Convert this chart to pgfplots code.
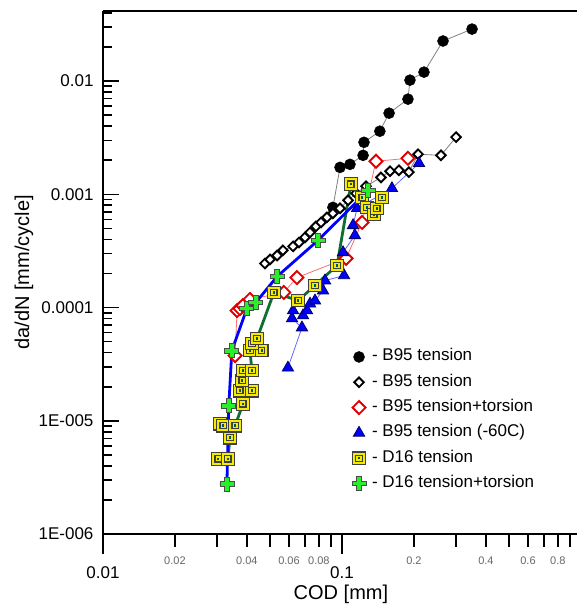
\documentclass[border=0pt]{standalone}
\usepackage{pgfplots}
\pgfplotsset{compat=1.18}
\usepackage{pgfplotstable}
\usepackage{fontspec}
\setmainfont{Liberation Sans}

\definecolor{dgreen}{RGB}{15,110,50}
\definecolor{ylw}{RGB}{245,235,0}
\definecolor{gpl}{RGB}{40,240,40}
\definecolor{pinkred}{RGB}{255,110,110}
\definecolor{redm}{RGB}{225,0,0}

\pgfdeclareplotmark{ysq}{%
  \pgfpathrectangle{\pgfqpoint{-\pgfplotmarksize}{-\pgfplotmarksize}}{\pgfqpoint{2\pgfplotmarksize}{2\pgfplotmarksize}}%
  \pgfusepathqfillstroke
  \pgfpathrectangle{\pgfqpoint{-0.5\pgfplotmarksize}{-0.5\pgfplotmarksize}}{\pgfqpoint{1\pgfplotmarksize}{1\pgfplotmarksize}}%
  \pgfusepathqstroke
  \begin{pgfscope}%
  \pgfpathrectangle{\pgfqpoint{-1.3pt}{-1.3pt}}{\pgfqpoint{2.6pt}{2.6pt}}%
  \pgfsetfillcolor{teal!70!black}\pgfusepathqfill
  \end{pgfscope}%
}
\pgfdeclareplotmark{gplus}{%
  \pgfpathmoveto{\pgfqpoint{0.32\pgfplotmarksize}{\pgfplotmarksize}}%
  \pgfpathlineto{\pgfqpoint{0.32\pgfplotmarksize}{0.32\pgfplotmarksize}}%
  \pgfpathlineto{\pgfqpoint{\pgfplotmarksize}{0.32\pgfplotmarksize}}%
  \pgfpathlineto{\pgfqpoint{\pgfplotmarksize}{-0.32\pgfplotmarksize}}%
  \pgfpathlineto{\pgfqpoint{0.32\pgfplotmarksize}{-0.32\pgfplotmarksize}}%
  \pgfpathlineto{\pgfqpoint{0.32\pgfplotmarksize}{-\pgfplotmarksize}}%
  \pgfpathlineto{\pgfqpoint{-0.32\pgfplotmarksize}{-\pgfplotmarksize}}%
  \pgfpathlineto{\pgfqpoint{-0.32\pgfplotmarksize}{-0.32\pgfplotmarksize}}%
  \pgfpathlineto{\pgfqpoint{-\pgfplotmarksize}{-0.32\pgfplotmarksize}}%
  \pgfpathlineto{\pgfqpoint{-\pgfplotmarksize}{0.32\pgfplotmarksize}}%
  \pgfpathlineto{\pgfqpoint{-0.32\pgfplotmarksize}{0.32\pgfplotmarksize}}%
  \pgfpathlineto{\pgfqpoint{-0.32\pgfplotmarksize}{\pgfplotmarksize}}%
  \pgfpathclose
  \pgfusepathqfillstroke
}

\pgfplotstableread{
x y
0.0916 0.000767
0.0981 0.00173
0.108 0.00184
0.1225 0.00221
0.1236 0.00288
0.144 0.00361
0.1574 0.00521
0.1888 0.00693
0.1925 0.0102
0.2203 0.0120
0.2646 0.0226
0.350 0.0288
}\bcircle

\pgfplotstableread{
x y
0.0476 0.000245
0.0500 0.000266
0.0535 0.000288
0.0566 0.000320
0.0624 0.000347
0.0661 0.000376
0.0700 0.000416
0.0735 0.000461
0.0778 0.000521
0.0817 0.000565
0.0865 0.000626
0.0916 0.000679
0.0981 0.000752
0.106 0.000885
0.1145 0.00102
0.126 0.00118
0.1455 0.00141
0.1588 0.00160
0.173 0.00163
0.1905 0.00157
0.208 0.00226
0.2594 0.00221
0.300 0.00320
}\bdiamond

\pgfplotstableread{
x y
0.0357 3.76e-5
0.0364 9.41e-5
0.0374 9.80e-5
0.0385 1.04e-4
0.0412 1.18e-4
0.0571 1.36e-4
0.0648 1.84e-4
0.104 2.72e-4
0.1213 5.65e-4
0.1387 0.00196
0.1888 0.00208
}\rdiamond

\pgfplotstableread{
x y
0.0594 2.94e-5
0.0680 6.65e-5
0.0618 8.0e-5
0.0624 9.41e-5
0.0687 8.5e-5
0.0714 9.41e-5
0.0735 1.08e-4
0.0771 1.15e-4
0.0833 1.41e-4
0.0849 1.73e-4
0.102 1.92e-4
0.101 3.07e-4
0.1132 4.34e-4
0.1112 5.32e-4
0.1156 7.52e-4
0.1618 0.00113
0.210 0.00188
}\btri

\pgfplotstableread{
x y
0.0303 4.61e-6
0.0333 4.61e-6
0.0340 7.08e-6
0.0309 9.41e-6
0.0318 9.03e-6
0.0357 9.03e-6
0.0385 1.41e-5
0.0374 1.84e-5
0.0420 1.84e-5
0.0382 2.26e-5
0.0385 2.77e-5
0.0420 2.77e-5
0.0412 4.16e-5
0.0462 4.16e-5
0.0420 4.80e-5
0.0441 5.32e-5
0.0519 1.36e-4
0.0655 1.15e-4
0.0771 1.57e-4
0.0953 2.35e-4
0.109 0.00123
0.1213 0.00094
0.1272 7.67e-4
0.136 6.65e-4
0.140 7.52e-4
0.147 0.00094
}\dsq

\pgfplotstableread{
x y
0.0330 2.77e-6
0.0336 1.36e-5
0.0346 4.16e-5
0.0400 9.80e-5
0.0436 1.11e-4
0.0535 1.88e-4
0.0794 3.92e-4
0.1285 0.00108
}\dplus

\begin{document}
\begin{tikzpicture}
\useasboundingbox (-103pt,-76pt) rectangle (474pt,534pt);
% x axis (ticks, labels, frame lines)
\begin{axis}[
  scale only axis, width=474pt, height=523pt,
  xmode=log, ymode=log, xmin=0.01, xmax=0.962, ymin=1e-6, ymax=0.0416,
  clip=false,
  hide y axis,
  axis x line*=bottom,
  x axis line style={line width=1.6pt, -},
  xtick={0.01,0.1}, xticklabels={0.01,0.1},
  minor xtick={0.03,0.05,0.07,0.09,0.3,0.5,0.7,0.9},
  xtick align=outside,
  major tick length=20pt, minor tick length=13pt,
  tick style={line width=1.6pt, black},
  xticklabel style={font=\fontsize{17}{20}\selectfont, anchor=center, yshift=-19pt},
  extra x ticks={0.02,0.04,0.06,0.08,0.2,0.4,0.6,0.8},
  extra x tick labels={0.02,0.04,0.06,0.08,0.2,0.4,0.6,0.8},
  extra x tick style={major tick length=13pt,
     xticklabel style={font=\fontsize{11}{13}\selectfont, text=black!60, anchor=center, yshift=5pt}},
  xlabel={COD [mm]},
  xlabel style={font=\fontsize{20}{24}\selectfont, at={(axis description cs:0.502,-0.116)}, anchor=center},
]
\draw[line width=1.6pt] (rel axis cs:0,1) -- (rel axis cs:1,1);
\end{axis}
% y axis and data
\begin{axis}[
  scale only axis, width=474pt, height=523pt,
  xmode=log, ymode=log, xmin=0.01, xmax=0.962, ymin=1e-6, ymax=0.0416,
  clip=false,
  hide x axis,
  axis y line*=left,
  y axis line style={line width=1.6pt, -},
  ytick={1e-6,1e-5,1e-4,1e-3,1e-2},
  yticklabels={1E-006,1E-005,0.0001,0.001,0.01},
  minor ytick={2e-6,3e-6,4e-6,5e-6,6e-6,7e-6,8e-6,9e-6,
               2e-5,3e-5,4e-5,5e-5,6e-5,7e-5,8e-5,9e-5,
               2e-4,3e-4,4e-4,5e-4,6e-4,7e-4,8e-4,9e-4,
               2e-3,3e-3,4e-3,5e-3,6e-3,7e-3,8e-3,9e-3,
               2e-2,3e-2,4e-2},
  ytick align=inside,
  major tick length=16pt, minor tick length=9pt,
  tick style={line width=1.6pt, black},
  yticklabel style={font=\fontsize{17}{20}\selectfont, xshift=-6pt},
  ylabel={da/dN [mm/cycle]},
  ylabel style={font=\fontsize{20}{24}\selectfont, at={(axis description cs:-0.1667,0.5)}, anchor=center},
  legend style={draw=none, fill=none, at={(rel axis cs:0.525,0.358)}, anchor=north west,
     font=\fontsize{17}{20}\selectfont, inner sep=0pt, row sep=5.3pt, column sep=4pt,
     nodes={inner sep=2pt, text height=12pt, text depth=4pt}},
  legend cell align=left,
  legend image code/.code={\draw plot[only marks] coordinates {(0.2cm,0cm)};},
]
\addplot[gray, line width=0.8pt, mark=*, mark size=5.5pt, mark options={draw=black, fill=black, line width=0.5pt}]
  table[x=x,y=y] {\bcircle};
\addlegendentry{- B95 tension}
\addplot[gray, line width=0.8pt, mark=square*, mark size=3.4pt, mark options={rotate=45, draw=black, fill=white, line width=1.9pt}]
  table[x=x,y=y] {\bdiamond};
\addlegendentry{- B95 tension}
\addplot[pinkred, line width=0.8pt, mark=square*, mark size=4.6pt, mark options={rotate=45, draw=redm, fill=white, line width=1.9pt}]
  table[x=x,y=y] {\rdiamond};
\addlegendentry{- B95 tension+torsion}
\addplot[blue!60, line width=0.8pt, mark=triangle*, mark size=6.5pt, mark options={draw=blue!40!black, fill=blue, line width=0.8pt}]
  table[x=x,y=y] {\btri};
\addlegendentry{- B95 tension (-60C)}
\addplot[dgreen, line width=2.8pt, mark=ysq, mark size=6.2pt, mark options={draw=black!75, fill=ylw, line width=1.1pt}]
  table[x=x,y=y] {\dsq};
\addlegendentry{- D16 tension}
\addplot[blue, line width=2.8pt, mark=gplus, mark size=7pt, mark options={draw=black!70, fill=gpl, line width=0.8pt}]
  table[x=x,y=y] {\dplus};
\addlegendentry{- D16 tension+torsion}
\end{axis}
\end{tikzpicture}
\end{document}
